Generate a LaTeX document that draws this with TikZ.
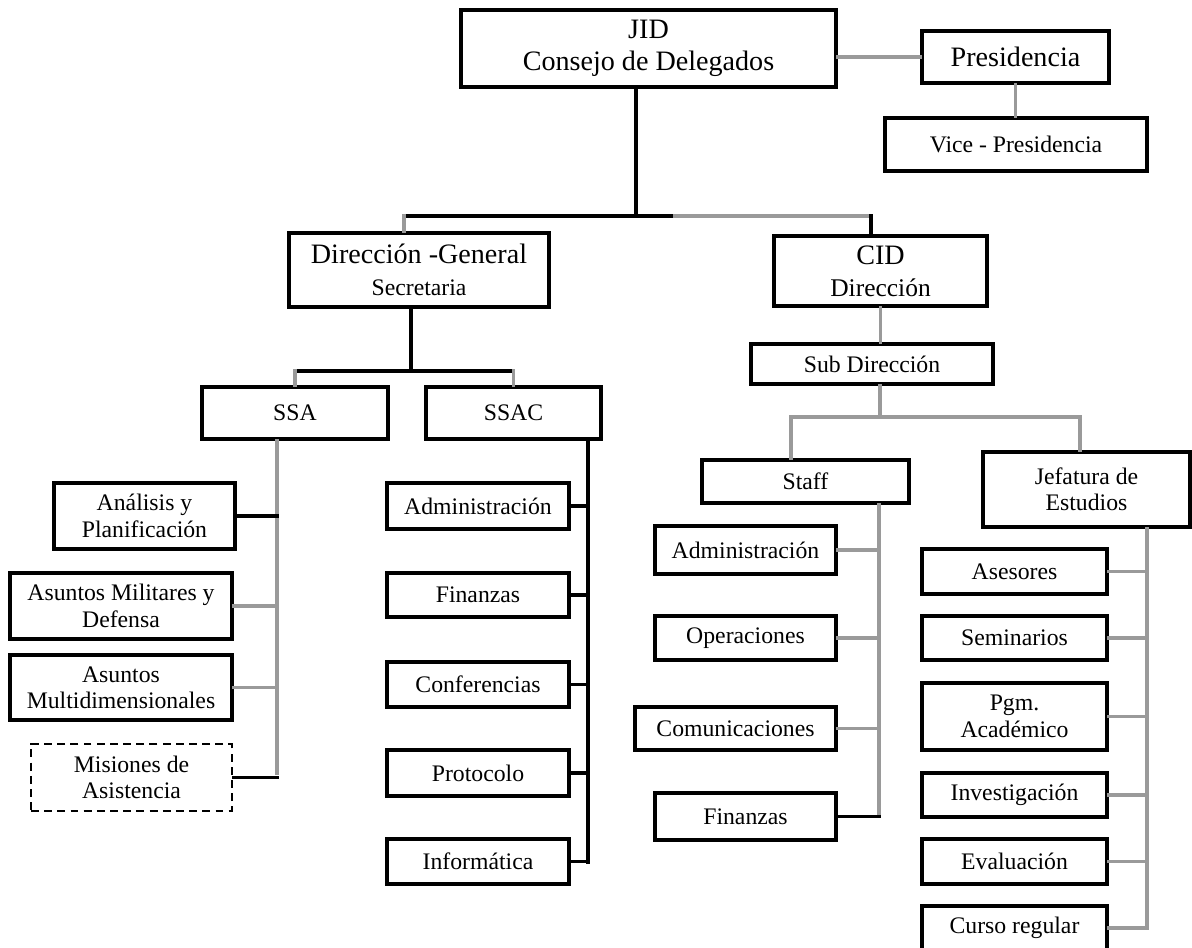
\documentclass[tikz,border=0pt]{standalone}
\usepackage{fontspec}
\setmainfont{Liberation Serif}
\usepackage{tikz}
\usetikzlibrary{positioning, arrows.meta}
\definecolor{oLine}{HTML}{9A9A9A}
\tikzset{
  unitbox/.style={draw=black, line width=1.9pt, inner sep=1pt, align=center,
    font=\fontsize{13.5}{15}\selectfont},
  headbox/.style={unitbox, font=\fontsize{16}{18}\selectfont},
  planbox/.style={unitbox, line width=1.6pt, dash pattern=on 4.5pt off 3pt},
  linkblack/.style={draw=black, line width=1.8pt, line cap=rect},
  linkgray/.style={draw=oLine, line width=2pt, line cap=rect},
}

\begin{document}
\begin{tikzpicture}[x=0.02cm, y=-0.02cm]
  \useasboundingbox (0,0) rectangle (1192,947);
  % top level
  \node[headbox, minimum width=7.5cm, minimum height=1.54cm] (jid) at (648.5,48.5) {JID\\Consejo de Delegados};
  \node[headbox, minimum width=3.74cm, minimum height=1.04cm] (pres) at (1015.5,57) {Presidencia};
  \node[unitbox, minimum width=5.24cm, minimum height=1.06cm] (vice) at (1016,144.5) {Vice - Presidencia};
  \node[headbox, minimum width=5.2cm, minimum height=1.48cm] (dg) at (419,270) {Dirección -General\\{\fontsize{13.5}{15}\selectfont Secretaria}};
  \node[headbox, minimum width=4.26cm, minimum height=1.4cm] (cid) at (880.5,271) {CID\\{\fontsize{14.5}{16}\selectfont Dirección}};
  % secretaria general
  \node[unitbox, minimum width=3.72cm, minimum height=1.04cm] (ssa) at (295,413) {SSA};
  \node[unitbox, minimum width=3.5cm, minimum height=1.04cm] (ssac) at (513.5,413) {SSAC};
  \node[unitbox, minimum width=3.62cm, minimum height=1.32cm] (ap) at (144.5,516) {Análisis y\\Planificación};
  \node[unitbox, minimum width=4.44cm, minimum height=1.32cm] (amd) at (121,606) {Asuntos Militares y\\Defensa};
  \node[unitbox, minimum width=4.44cm, minimum height=1.3cm] (amm) at (121,687.5) {Asuntos\\Multidimensionales};
  \node[planbox, minimum width=4.02cm, minimum height=1.34cm] (mis) at (131.5,777.5) {Misiones de\\Asistencia};
  \node[unitbox, minimum width=3.64cm, minimum height=0.92cm] (adma) at (478,506) {Administración};
  \node[unitbox, minimum width=3.64cm, minimum height=0.88cm] (fina) at (478,595) {Finanzas};
  \node[unitbox, minimum width=3.64cm, minimum height=0.9cm] (conf) at (478,684.5) {Conferencias};
  \node[unitbox, minimum width=3.64cm, minimum height=0.92cm] (prot) at (478,773) {Protocolo};
  \node[unitbox, minimum width=3.64cm, minimum height=0.9cm] (info) at (478,861.5) {Informática};
  % colegio
  \node[unitbox, minimum width=4.84cm, minimum height=0.8cm] (sub) at (872,364) {Sub Dirección};
  \node[unitbox, minimum width=4.14cm, minimum height=0.86cm] (staff) at (805.5,481.5) {Staff};
  \node[unitbox, minimum width=4.14cm, minimum height=1.5cm] (jef) at (1086.5,489.5) {Jefatura de\\Estudios};
  \node[unitbox, minimum width=3.62cm, minimum height=0.96cm] (admb) at (745.5,550) {Administración};
  \node[unitbox, minimum width=3.62cm, minimum height=0.88cm] (oper) at (745.5,638) {Operaciones};
  \node[unitbox, minimum width=4.02cm, minimum height=0.86cm] (comm) at (735.5,728.5) {Comunicaciones};
  \node[unitbox, minimum width=3.62cm, minimum height=0.94cm] (finb) at (745.5,816.5) {Finanzas};
  \node[unitbox, minimum width=3.7cm, minimum height=0.9cm] (ases) at (1014.5,571.5) {Asesores};
  \node[unitbox, minimum width=3.7cm, minimum height=0.88cm] (semi) at (1014.5,638) {Seminarios};
  \node[unitbox, minimum width=3.7cm, minimum height=1.34cm] (pgm) at (1014.5,716.5) {Pgm.\\Académico};
  \node[unitbox, minimum width=3.7cm, minimum height=0.88cm] (inve) at (1014.5,795) {Investigación};
  \node[unitbox, minimum width=3.7cm, minimum height=0.9cm] (eval) at (1014.5,861.5) {Evaluación};
  \node[unitbox, minimum width=3.7cm, minimum height=0.88cm] (curso) at (1014.5,928) {Curso regular};

  % junctions
  \coordinate (trunk) at (636,216);
  \coordinate (dgdrop) at (404,216);
  \coordinate (mid) at (675,216);
  \coordinate (ciddrop) at (871,216);
  \coordinate (dgbus) at (411,371);
  \coordinate (ssabus) at (277,773);
  \coordinate (ssacbus) at (588,862);
  \coordinate (subbus) at (880,417);
  \coordinate (staffdrop) at (791,417);
  \coordinate (jefdrop) at (1080,417);
  \coordinate (staffbus) at (879,816);
  \coordinate (jefbus) at (1147,928);

  % top links
  \draw[linkgray] (pres.west -| jid.east) -- (pres.west);
  \draw[linkgray] (pres.south) -- (pres.south |- vice.north);
  \draw[linkblack] (jid.south -| trunk) -- (trunk);
  \draw[linkblack] (dgdrop) -- (trunk) -- (mid);
  \draw[linkgray] (mid) -- (ciddrop);
  \draw[linkgray] (dgdrop) -- (dgdrop |- dg.north);
  \draw[linkblack] (ciddrop) -- (ciddrop |- cid.north);

  % secretaria links
  \draw[linkblack] (dg.south -| dgbus) -- (dgbus);
  \draw[linkblack] (ssa.north |- dgbus) -- (ssac.north |- dgbus);
  \draw[linkgray] (ssa.north |- dgbus) -- (ssa.north);
  \draw[linkgray] (ssac.north |- dgbus) -- (ssac.north);
  \draw[linkgray] (ssabus |- ssa.south) -- (ssabus);
  \draw[linkblack] (ap.east) -- (ap.east -| ssabus);
  \draw[linkgray] (amd.east) -- (amd.east -| ssabus);
  \draw[linkgray] (amm.east) -- (amm.east -| ssabus);
  \draw[linkblack] (mis.east) -- (mis.east -| ssabus);
  \draw[linkblack] (ssacbus |- ssac.south) -- (ssacbus);
  \draw[linkblack] (adma.east) -- (adma.east -| ssacbus);
  \draw[linkblack] (fina.east) -- (fina.east -| ssacbus);
  \draw[linkblack] (conf.east) -- (conf.east -| ssacbus);
  \draw[linkblack] (prot.east) -- (prot.east -| ssacbus);
  \draw[linkblack] (info.east) -- (info.east -| ssacbus);

  % colegio links
  \draw[linkgray] (cid.south) -- (cid.south |- sub.north);
  \draw[linkgray] (sub.south -| subbus) -- (subbus);
  \draw[linkgray] (staffdrop |- staff.north) -- (staffdrop) -- (jefdrop) -- (jefdrop |- jef.north);
  \draw[linkgray] (staffbus |- staff.south) -- (staffbus);
  \draw[linkgray] (admb.east) -- (admb.east -| staffbus);
  \draw[linkgray] (oper.east) -- (oper.east -| staffbus);
  \draw[linkgray] (comm.east) -- (comm.east -| staffbus);
  \draw[linkblack] (finb.east) -- (finb.east -| staffbus);
  \draw[linkgray] (jefbus |- jef.south) -- (jefbus);
  \draw[linkgray] (ases.east) -- (ases.east -| jefbus);
  \draw[linkgray] (semi.east) -- (semi.east -| jefbus);
  \draw[linkgray] (pgm.east) -- (pgm.east -| jefbus);
  \draw[linkgray] (inve.east) -- (inve.east -| jefbus);
  \draw[linkgray] (eval.east) -- (eval.east -| jefbus);
  \draw[linkgray] (curso.east) -- (curso.east -| jefbus);
\end{tikzpicture}
\end{document}
